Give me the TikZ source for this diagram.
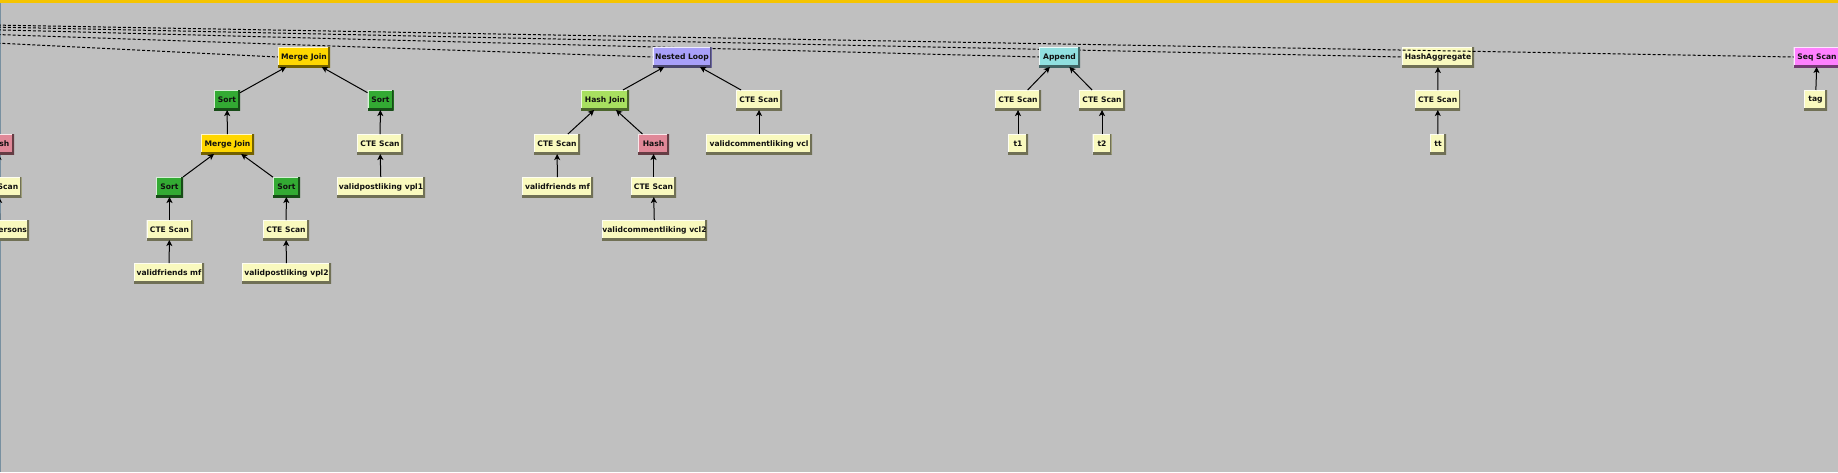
\documentclass[tikz,border=0pt]{standalone}
\usepackage{fontspec}
\newfontfamily\nf{DejaVu Sans}
\usetikzlibrary{arrows.meta,backgrounds}
\definecolor{bg}{HTML}{C0C0C0}
\definecolor{topbar}{HTML}{F5C400}
\definecolor{leftc}{HTML}{7890A0}
\definecolor{txt}{HTML}{101010}
\definecolor{cte}{HTML}{F9F9BE}
\definecolor{mjoin}{HTML}{FFD700}
\definecolor{sortc}{HTML}{33AA33}
\definecolor{nloop}{HTML}{A8A0FA}
\definecolor{hjoin}{HTML}{A8E060}
\definecolor{hashc}{HTML}{E08898}
\definecolor{appc}{HTML}{90E0E0}
\definecolor{seqc}{HTML}{FF80FF}
\begin{document}
\begin{tikzpicture}[x=1pt,y=-1pt,
  pn/.style={fill=#1, minimum height=20pt, inner sep=0pt, outer sep=0pt,
    font=\nf\bfseries\fontsize{7.6}{9}\selectfont, text=txt,
    path picture={
      \draw[#1!20!white, line width=2pt] (path picture bounding box.south west) -- (path picture bounding box.north west) -- (path picture bounding box.north east);
      \draw[#1!45!black, line width=3.2pt] (path picture bounding box.south west) -- (path picture bounding box.south east) -- (path picture bounding box.north east);
    }},
  pn/.default=cte,
  w/.style={minimum width=#1pt},
  arr/.style={draw=black, line width=1pt, -{Stealth[length=6pt,width=6pt,inset=1.5pt]}},
  dl/.style={draw=black, line width=1pt, dash pattern=on 3pt off 2pt},
]
\useasboundingbox (0,0) rectangle (1838,472);
\clip (0,0) rectangle (1838,472);

% nodes: left partial subtree
\node[pn=hashc, w=31] (lhash) at (-1.5,144) {Hash};
\node[pn, w=46] (lcte) at (-1.3,187) {CTE Scan};
\node[pn, w=58, text width=54pt, align=right] (lpers) at (0,230) {ersons};

% merge join subtree
\node[pn=mjoin, w=52] (mj1) at (304,57) {Merge Join};
\node[pn=sortc, w=26] (sortA) at (227,100) {Sort};
\node[pn=sortc, w=26] (sortB) at (380.5,100) {Sort};
\node[pn=mjoin, w=53] (mj2) at (227.5,144) {Merge Join};
\node[pn, w=46] (cteB) at (380,144) {CTE Scan};
\node[pn=sortc, w=27] (sortC) at (169.5,187) {Sort};
\node[pn=sortc, w=27] (sortD) at (286.5,187) {Sort};
\node[pn, w=88] (vpl1) at (381,187) {validpostliking vpl1};
\node[pn, w=46] (cteC) at (169.5,230) {CTE Scan};
\node[pn, w=46] (cteD) at (286,230) {CTE Scan};
\node[pn, w=70] (mf1) at (169,273) {validfriends mf};
\node[pn, w=89] (vpl2) at (286.5,273) {validpostliking vpl2};

% nested loop subtree
\node[pn=nloop, w=59] (nl) at (682,57) {Nested Loop};
\node[pn=hjoin, w=48] (hj) at (605,100) {Hash Join};
\node[pn, w=46] (cteE) at (759,100) {CTE Scan};
\node[pn, w=46] (cteF) at (557,144) {CTE Scan};
\node[pn=hashc, w=31] (hash) at (653.5,144) {Hash};
\node[pn, w=106] (vcl) at (759,144) {validcommentliking vcl};
\node[pn, w=71] (mf2) at (557.5,187) {validfriends mf};
\node[pn, w=45] (cteG) at (653.5,187) {CTE Scan};
\node[pn, w=105] (vcl2) at (654.5,230) {validcommentliking vcl2};

% append subtree
\node[pn=appc, w=41] (app) at (1059.5,57) {Append};
\node[pn, w=46] (cteH) at (1018,100) {CTE Scan};
\node[pn, w=46] (cteI) at (1102,100) {CTE Scan};
\node[pn, w=20] (t1) at (1018,144) {t1};
\node[pn, w=19] (t2) at (1102,144) {t2};

% hash aggregate subtree
\node[pn, w=72] (hagg) at (1438,57) {HashAggregate};
\node[pn, w=45] (cteJ) at (1437.7,100) {CTE Scan};
\node[pn, w=16] (tt) at (1438,144) {tt};

% seq scan subtree
\node[pn=seqc, w=47] (seq) at (1817,57) {Seq Scan};
\node[pn, w=23] (tag) at (1815.5,100) {tag};

% background and dashed lines from off-picture parent (behind nodes)
\coordinate (root) at (-572,15);
\begin{scope}[on background layer]
\fill[bg] (0,0) rectangle (1838,472);
\fill[topbar] (0,0) rectangle (1838,3);
\fill[leftc] (0,3) rectangle (1,472);
\draw[dl] (root) -- (mj1.west);
\draw[dl] (root) -- (nl.west);
\draw[dl] (root) -- (app.west);
\draw[dl] (root) -- (hagg.west);
\end{scope}
\draw[dl] (root) -- (seq.west);

% arrows child -> parent
\draw[arr] (lcte) -- (lhash);
\draw[arr] (lpers) -- (lcte);

\draw[arr] (sortA) -- (mj1);
\draw[arr] (sortB) -- (mj1);
\draw[arr] (mj2) -- (sortA);
\draw[arr] (cteB) -- (sortB);
\draw[arr] (sortC) -- (mj2);
\draw[arr] (sortD) -- (mj2);
\draw[arr] (vpl1) -- (cteB);
\draw[arr] (cteC) -- (sortC);
\draw[arr] (cteD) -- (sortD);
\draw[arr] (mf1) -- (cteC);
\draw[arr] (vpl2) -- (cteD);

\draw[arr] (hj) -- (nl);
\draw[arr] (cteE) -- (nl);
\draw[arr] (cteF) -- (hj);
\draw[arr] (hash) -- (hj);
\draw[arr] (vcl) -- (cteE);
\draw[arr] (mf2) -- (cteF);
\draw[arr] (cteG) -- (hash);
\draw[arr] (vcl2) -- (cteG);

\draw[arr] (cteH) -- (app);
\draw[arr] (cteI) -- (app);
\draw[arr] (t1) -- (cteH);
\draw[arr] (t2) -- (cteI);

\draw[arr] (cteJ) -- (hagg);
\draw[arr] (tt) -- (cteJ);

\draw[arr] (tag) -- (seq);
\end{tikzpicture}
\end{document}
